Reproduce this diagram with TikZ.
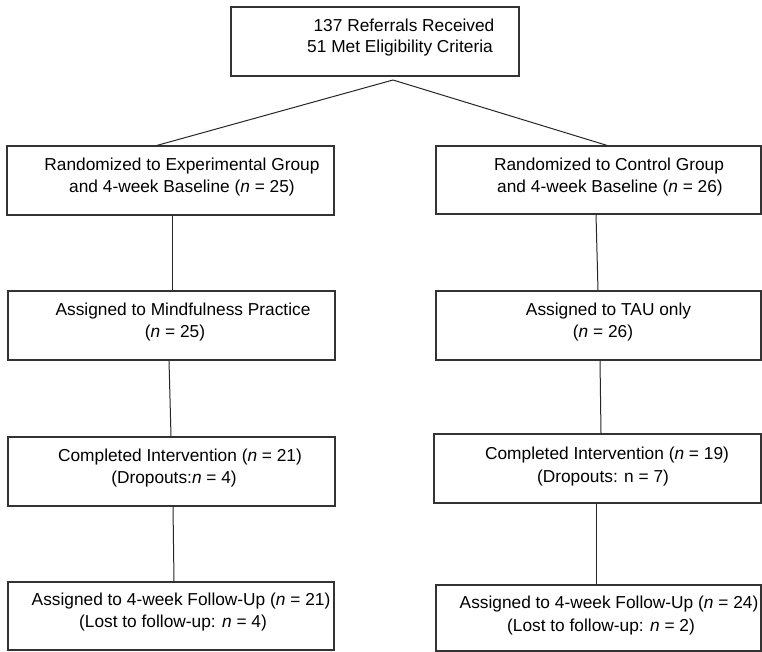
\documentclass[tikz,border=0pt]{standalone}
\usepackage{fontspec}
\setmainfont{Liberation Sans}
\begin{document}
\begin{tikzpicture}[x=1pt,y=-1pt,
  box/.style={draw=black!80, line width=1.2pt, inner sep=0pt},
  conn/.style={draw=black!85, line width=1pt},
  txt/.style={anchor=base, inner sep=0pt, font=\fontsize{17.3}{22}\selectfont}]
\useasboundingbox (0,0) rectangle (762,651);
% boxes
\node[box, minimum width=288pt, minimum height=69pt] (top) at (375,41.5) {};
\node[box, minimum width=327pt, minimum height=69pt] (L1) at (170.5,180.5) {};
\node[box, minimum width=325pt, minimum height=68pt] (R1) at (598.5,180) {};
\node[box, minimum width=327pt, minimum height=69pt] (L2) at (171.5,325.5) {};
\node[box, minimum width=325pt, minimum height=69pt] (R2) at (598.5,325.5) {};
\node[box, minimum width=327pt, minimum height=69pt] (L3) at (171.5,471.5) {};
\node[box, minimum width=327pt, minimum height=69pt] (R3) at (597.5,468.5) {};
\node[box, minimum width=326pt, minimum height=68pt] (L4) at (171,616) {};
\node[box, minimum width=325pt, minimum height=66pt] (R4) at (598.5,618) {};
% texts
\node[txt] (t1) at (404,31) {137 Referrals Received};
\node[txt] (t2) at (400,52) {51 Met Eligibility Criteria};
\node[txt] (l1a) at (182,170) {Randomized to Experimental Group};
\node[txt] (l1b) at (182,192) {and 4-week Baseline (\textit{n} = 25)};
\node[txt] (r1a) at (609,170) {Randomized to Control Group};
\node[txt] (r1b) at (610,192) {and 4-week Baseline (\textit{n} = 26)};
\node[txt] (l2a) at (183,315) {Assigned to Mindfulness Practice};
\node[txt] (l2b) at (175,337) {(\textit{n} = 25)};
\node[txt] (r2a) at (608.5,315) {Assigned to TAU only};
\node[txt] (r2b) at (603,337) {(\textit{n} = 26)};
\node[txt] (l3a) at (180,461) {Completed Intervention (\textit{n} = 21)};
\node[txt] (l3b) at (174,483) {(Dropouts:\textit{n} = 4)};
\node[txt] (r3a) at (607,459) {Completed Intervention (\textit{n} = 19)};
\node[txt] (r3b) at (603,482) {(Dropouts: n = 7)};
\node[txt] (l4a) at (181,605) {Assigned to 4-week Follow-Up (\textit{n} = 21)};
\node[txt] (l4b) at (173,627) {(Lost to follow-up: \textit{n} = 4)};
\node[txt] (r4a) at (609,608) {Assigned to 4-week Follow-Up (\textit{n} = 24)};
\node[txt] (r4b) at (601,631) {(Lost to follow-up: \textit{n} = 2)};
% connectors
\coordinate (apex) at (393,80);
\draw[conn] (apex) -- ([xshift=-13.5pt]L1.north);
\draw[conn] (apex) -- ([xshift=8.5pt]R1.north);
\draw[conn] ([xshift=1.5pt]L1.south) -- ([xshift=0.5pt]L2.north);
\draw[conn] ([xshift=-2.5pt]R1.south) -- ([xshift=-0.5pt]R2.north);
\draw[conn] ([xshift=-2.5pt]L2.south) -- ([xshift=-0.5pt]L3.north);
\draw[conn] ([xshift=1.5pt]R2.south) -- ([xshift=3.5pt]R3.north);
\draw[conn] ([xshift=1.5pt]L3.south) -- ([xshift=3pt]L4.north);
\draw[conn] ([xshift=-1.5pt]R3.south) -- ([xshift=-2.5pt]R4.north);
\end{tikzpicture}
\end{document}
